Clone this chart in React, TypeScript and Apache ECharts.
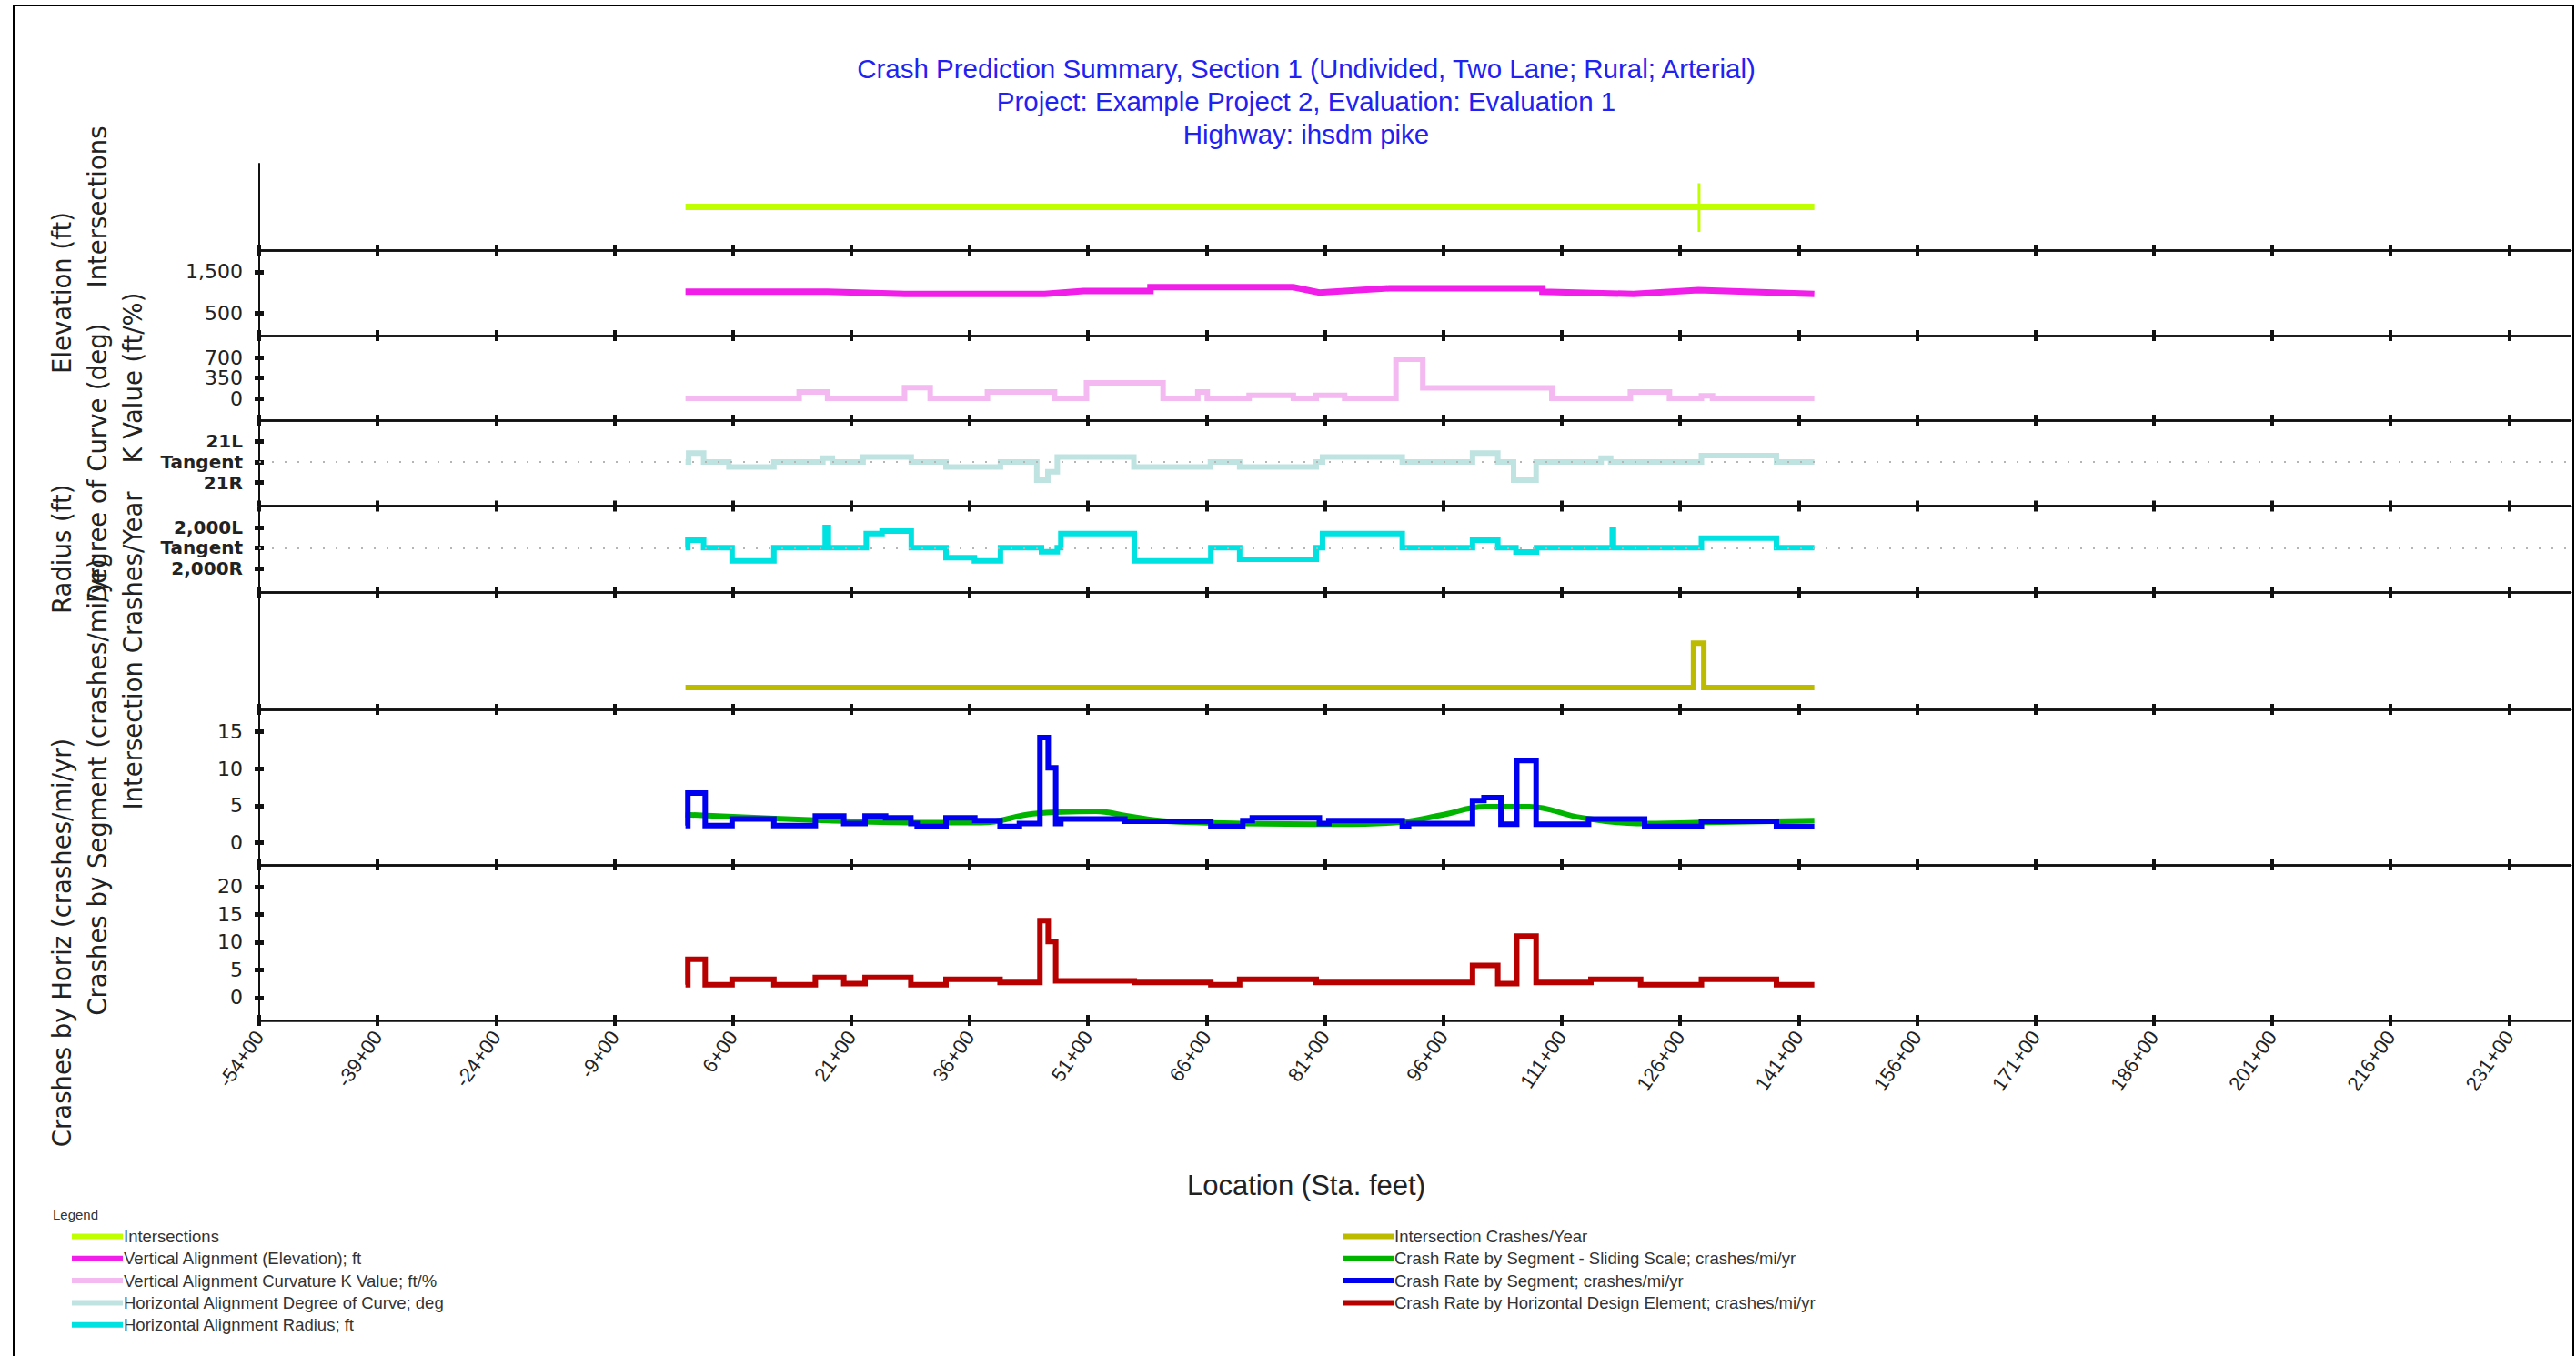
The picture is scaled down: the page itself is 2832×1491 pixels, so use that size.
import React, { useEffect, useRef } from 'react';
import * as echarts from 'echarts';

// ---------------- Text ----------------
const titleLines = [
  'Crash Prediction Summary, Section 1 (Undivided, Two Lane; Rural; Arterial)',
  'Project: Example Project 2, Evaluation: Evaluation 1',
  'Highway: ihsdm pike',
];
const xAxisTitle = 'Location (Sta. feet)';
const legendTitle = 'Legend';

// ---------------- X axis (station, ft) ----------------
const stationMin = -5400;
const stationMax = 23880;
const stationTicks = [-5400, -3900, -2400, -900, 600, 2100, 3600, 5100, 6600, 8100, 9600, 11100, 12600, 14100, 15600, 17100, 18600, 20100, 21600, 23100];

// ---------------- Data ----------------
// Road extent (Intersections panel)
const roadStations = [0, 14300];
const intersectionStations = [12840];

// Vertical alignment elevation (ft) - polyline vertices
const elevStations = [0, 1800, 2780, 4550, 5040, 5890, 5890, 7700, 8030, 8920, 10855, 10855, 12010, 12830, 14300];
const elevValues = [1017, 1017, 960, 960, 1033, 1033, 1128, 1128, 995, 1100, 1100, 1017, 960, 1055, 960];

// K value (ft/%) - step segments: value i applies from station i to station i+1
const kStations = [0, 1440, 1800, 2775, 3100, 3825, 4675, 5080, 6050, 6490, 6610, 7140, 7700, 7990, 8350, 9000, 9340, 10975, 11970, 12465, 12870, 13010, 14300];
const kValues = [0, 110, 0, 185, 0, 110, 0, 265, 0, 110, 0, 50, 0, 50, 0, 670, 180, 0, 110, 0, 45, 0];

// Degree of curve (deg, + = L, - = R)
const degStations = [0, 40, 230, 550, 1120, 1740, 1860, 2250, 2860, 3300, 3990, 4450, 4590, 4710, 5680, 6650, 7020, 7990, 8070, 9080, 9970, 10290, 10490, 10775, 11600, 11720, 12870, 13820, 14300];
const degValues = [0, 9, 0, -5, 0, 4, 0, 5, 0, -5, 0, -18.5, -10, 5, -5, 0, -5, 0, 5, 0, 9, 0, -18.5, 0, 4, 0, 6.5, 0];

// Radius (ft, + = L, - = R)
const radStations = [0, 30, 230, 590, 1120, 1770, 1810, 2290, 2490, 2860, 3300, 3660, 3990, 4510, 4710, 4755, 5685, 6655, 7020, 7990, 8070, 9080, 9970, 10290, 10520, 10780, 11740, 11755, 12870, 13820, 14300];
const radValues = [0, 740, 0, -1280, 0, 1980, 0, 1390, 1630, 0, -980, -1280, 0, -390, 0, 1390, -1280, 0, -1130, 0, 1390, 0, 740, 0, -420, 0, 1750, 0, 940, 0];

// Intersection crashes / year
const icStations = [0, 12770, 12900, 14300];
const icValues = [0, 1, 0];

// Crash rate by segment - sliding scale (smooth)
const slideStations = [0, 600, 1800, 3000, 3750, 4400, 5200, 5600, 6100, 7050, 8270, 9080, 9560, 10130, 10690, 11340, 12050, 12800, 13800, 14300];
const slideValues = [3.8, 3.5, 3.0, 2.7, 2.7, 3.9, 4.25, 3.6, 2.9, 2.6, 2.5, 2.8, 3.7, 4.85, 4.85, 3.4, 2.6, 2.7, 2.9, 3.0];

// Crash rate by segment (step)
const segStations = [0, 30, 250, 590, 1120, 1645, 2005, 2275, 2535, 2855, 2935, 3300, 3665, 3985, 4230, 4490, 4595, 4690, 4755, 5565, 6655, 7060, 7180, 8030, 8150, 9080, 9160, 9970, 10115, 10330, 10530, 10775, 11440, 12150, 12870, 13820, 14300];
const segValues = [2.3, 6.7, 2.3, 3.2, 2.3, 3.6, 2.6, 3.6, 3.35, 2.6, 2.2, 3.35, 3.0, 2.2, 2.6, 14.2, 10.1, 2.6, 3.2, 2.9, 2.2, 3.0, 3.35, 2.6, 3.0, 2.2, 2.6, 5.7, 6.1, 2.5, 11.1, 2.5, 3.2, 2.2, 2.9, 2.2];

// Crash rate by horizontal design element (step)
const horizStations = [0, 30, 250, 590, 1120, 1645, 2005, 2275, 2855, 3300, 3985, 4490, 4595, 4690, 5685, 6655, 7020, 7990, 9970, 10290, 10530, 10775, 11470, 12100, 12870, 13820, 14300];
const horizValues = [2.3, 6.9, 2.3, 3.3, 2.3, 3.6, 2.5, 3.6, 2.3, 3.3, 2.7, 13.9, 10.1, 3.0, 2.7, 2.3, 3.3, 2.7, 5.8, 2.5, 11.1, 2.7, 3.3, 2.3, 3.3, 2.3];

// Y tick values
const elevTicks = [500, 1500];
const kTicks = [0, 350, 700];
const degTicks = [-21, 0, 21];
const radTicks = [-2000, 0, 2000];
const segTicks = [0, 5, 10, 15];
const horizTicks = [0, 5, 10, 15, 20];

// Series names (legend)
const N_INT = 'Intersections';
const N_ELEV = 'Vertical Alignment (Elevation); ft';
const N_K = 'Vertical Alignment Curvature K Value; ft/%';
const N_DEG = 'Horizontal Alignment Degree of Curve; deg';
const N_RAD = 'Horizontal Alignment Radius; ft';
const N_IC = 'Intersection Crashes/Year';
const N_SLIDE = 'Crash Rate by Segment - Sliding Scale; crashes/mi/yr';
const N_SEG = 'Crash Rate by Segment; crashes/mi/yr';
const N_HORIZ = 'Crash Rate by Horizontal Design Element; crashes/mi/yr';
const legendLeftNames = [N_INT, N_ELEV, N_K, N_DEG, N_RAD];
const legendRightNames = [N_IC, N_SLIDE, N_SEG, N_HORIZ];

// ---------------- Styles / layout ----------------
const C = {
  lime: '#C0FF00',
  magenta: '#F01EE8',
  pink: '#F3B9F0',
  teal: '#BFE3E1',
  cyan: '#00E1E1',
  olive: '#BDBB00',
  green: '#00B400',
  blue: '#0000F0',
  red: '#B80000',
  axis: '#111111',
  text: '#222222',
  title: '#2121F2',
};
const panelTops = [180, 275, 369, 462, 556.5, 651, 780, 951];
const panelBottoms = [275, 369, 462, 556.5, 651, 780, 951, 1122];
const nameGapA = 203;
const nameGapB = 164;
const nameGapC = 125;

const thousands = (v: number) => String(Math.round(v)).replace(/\B(?=(\d{3})+(?!\d))/g, ',');
const fmtStation = (v: number) => {
  const whole = Math.trunc(v / 100);
  const rem = Math.abs(Math.round(v)) % 100;
  return `${whole}+${String(rem).padStart(2, '0')}`;
};
const fmtDeg = (v: number) => (v === 0 ? 'Tangent' : v > 0 ? `${v}L` : `${-v}R`);
const fmtRad = (v: number) => (v === 0 ? 'Tangent' : `${thousands(Math.abs(v))}${v > 0 ? 'L' : 'R'}`);

const stepData = (stations: number[], values: number[]) => {
  const pts = values.map((v, i) => [stations[i], v]);
  pts.push([stations[stations.length - 1], values[values.length - 1]]);
  return pts;
};
const lineData = (stations: number[], values: number[]) => stations.map((s, i) => [s, values[i]]);

type Panel = {
  name: string;
  min: number;
  max: number;
  ticks: number[];
  fmt?: (v: number) => string;
  bold?: boolean;
  gap: number;
};

const panels: Panel[] = [
  { name: 'Intersections', min: 0, max: 2, ticks: [], gap: nameGapB },
  { name: 'Elevation (ft)', min: -55, max: 2033, ticks: elevTicks, fmt: (v) => thousands(v), gap: nameGapA },
  { name: 'K Value (ft/%)', min: -373, max: 1074, ticks: kTicks, fmt: (v) => thousands(v), gap: nameGapC },
  { name: 'Degree of Curve (deg)', min: -44.9, max: 42.6, ticks: degTicks, fmt: fmtDeg, bold: true, gap: nameGapB },
  { name: 'Radius (ft)', min: -4329, max: 4072, ticks: radTicks, fmt: fmtRad, bold: true, gap: nameGapA },
  { name: 'Intersection Crashes/Year', min: -0.493, max: 2.156, ticks: [], gap: nameGapC },
  { name: 'Crashes by Segment (crashes/mi/yr)', min: -3.0, max: 18.0, ticks: segTicks, fmt: (v) => String(v), gap: nameGapB },
  { name: 'Crashes by Horiz (crashes/mi/yr)', min: -4.14, max: 23.94, ticks: horizTicks, fmt: (v) => String(v), gap: nameGapA },
];

function buildOption() {
  const last = panels.length - 1;
  const grids = panels.map((_, i) => ({
    left: 285,
    right: 6,
    top: panelTops[i],
    height: panelBottoms[i] - panelTops[i],
    containLabel: false,
    outerBoundsMode: 'none',
  }));

  const xAxes: any[] = [];
  const bottomX: number[] = [];
  const baseX = {
    type: 'value',
    min: stationMin,
    max: stationMax,
    splitLine: { show: false },
  };
  panels.forEach((_, i) => {
    bottomX.push(xAxes.length);
    xAxes.push({
      ...baseX,
      gridIndex: i,
      position: 'bottom',
      axisLine: { show: true, onZero: false, lineStyle: { color: C.axis, width: 2.5 } },
      axisTick: { show: true, inside: false, length: 6, customValues: stationTicks, lineStyle: { color: C.axis, width: 4 } },
      axisLabel:
        i === last
          ? {
              show: true,
              customValues: stationTicks,
              rotate: 55,
              margin: 14,
              formatter: fmtStation,
              fontFamily: 'Liberation Sans',
              fontSize: 22,
              color: C.text,
            }
          : { show: false },
      name: i === last ? xAxisTitle : '',
      nameLocation: 'middle',
      nameGap: 166,
      nameTextStyle: {
        fontFamily: 'Liberation Sans',
        fontSize: 31,
        color: C.text,
        padding: [0, 239, 0, 0],
      },
    });
    if (i > 0) {
      xAxes.push({
        ...baseX,
        gridIndex: i,
        position: 'top',
        axisLine: { show: true, onZero: false, lineStyle: { color: C.axis, width: 2.5 } },
        axisTick: { show: true, inside: false, length: 6, customValues: stationTicks, lineStyle: { color: C.axis, width: 4 } },
        axisLabel: { show: false },
      });
    }
    if (i === last) {
      xAxes.push({
        ...baseX,
        gridIndex: i,
        position: 'bottom',
        axisLine: { show: false, onZero: false },
        axisTick: { show: true, inside: true, length: 6, customValues: stationTicks, lineStyle: { color: C.axis, width: 4 } },
        axisLabel: { show: false },
      });
    }
  });

  const yAxes: any[] = [];
  const primaryY: number[] = [];
  panels.forEach((p, i) => {
    const hasTicks = p.ticks.length > 0;
    primaryY.push(yAxes.length);
    yAxes.push({
      type: 'value',
      gridIndex: i,
      position: 'left',
      min: p.min,
      max: p.max,
      splitLine: { show: false },
      axisLine: { show: true, onZero: false, lineStyle: { color: C.axis, width: 2 } },
      axisTick: hasTicks
        ? { show: true, inside: false, length: 5, customValues: p.ticks, lineStyle: { color: C.axis, width: 5 } }
        : { show: false },
      axisLabel: hasTicks
        ? {
            show: true,
            customValues: p.ticks,
            formatter: p.fmt,
            margin: 18,
            fontFamily: 'DejaVu Sans',
            fontSize: p.bold ? 20 : 22,
            fontWeight: p.bold ? 'bold' : 'normal',
            color: C.text,
          }
        : { show: false },
      name: p.name,
      nameLocation: 'middle',
      nameGap: p.gap,
      nameTextStyle: { fontFamily: 'DejaVu Sans', fontSize: 27.5, color: C.text },
    });
    if (hasTicks) {
      yAxes.push({
        type: 'value',
        gridIndex: i,
        position: 'left',
        min: p.min,
        max: p.max,
        splitLine: { show: false },
        axisLine: { show: false, onZero: false },
        axisTick: { show: true, inside: true, length: 5, customValues: p.ticks, lineStyle: { color: C.axis, width: 5 } },
        axisLabel: { show: false },
      });
    }
  });

  const base = (gi: number) => ({
    type: 'line',
    xAxisIndex: bottomX[gi],
    yAxisIndex: primaryY[gi],
    symbol: 'none',
    showSymbol: false,
    silent: true,
    animation: false,
  });
  const ls = (color: string, width = 6) => ({ color, width, cap: 'butt', join: 'miter' });
  const tangentLine = {
    silent: true,
    symbol: 'none',
    label: { show: false },
    lineStyle: { color: '#B5B5B5', type: [2, 12], width: 2 },
    data: [{ yAxis: 0 }],
  };

  const series: any[] = [
    {
      ...base(0),
      name: N_INT,
      data: lineData(roadStations, roadStations.map(() => 1)),
      lineStyle: ls(C.lime, 7),
      itemStyle: { color: C.lime },
    },
    ...intersectionStations.map((s) => ({
      ...base(0),
      name: 'Intersection location',
      data: [
        [s, 0.42],
        [s, 1.55],
      ],
      lineStyle: ls(C.lime, 3),
      itemStyle: { color: C.lime },
    })),
    {
      ...base(1),
      name: N_ELEV,
      data: lineData(elevStations, elevValues),
      lineStyle: ls(C.magenta, 7),
      itemStyle: { color: C.magenta },
    },
    {
      ...base(2),
      name: N_K,
      step: 'end',
      data: stepData(kStations, kValues),
      lineStyle: ls(C.pink),
      itemStyle: { color: C.pink },
    },
    {
      ...base(3),
      name: N_DEG,
      step: 'end',
      data: stepData(degStations, degValues),
      lineStyle: ls(C.teal),
      itemStyle: { color: C.teal },
      markLine: tangentLine,
    },
    {
      ...base(4),
      name: N_RAD,
      step: 'end',
      data: stepData(radStations, radValues),
      lineStyle: ls(C.cyan),
      itemStyle: { color: C.cyan },
      markLine: tangentLine,
    },
    {
      ...base(5),
      name: N_IC,
      step: 'end',
      data: stepData(icStations, icValues),
      lineStyle: ls(C.olive),
      itemStyle: { color: C.olive },
    },
    {
      ...base(6),
      name: N_SLIDE,
      smooth: 0.4,
      data: lineData(slideStations, slideValues),
      lineStyle: ls(C.green),
      itemStyle: { color: C.green },
    },
    {
      ...base(6),
      name: N_SEG,
      step: 'end',
      data: stepData(segStations, segValues),
      lineStyle: ls(C.blue),
      itemStyle: { color: C.blue },
    },
    {
      ...base(7),
      name: N_HORIZ,
      step: 'end',
      data: stepData(horizStations, horizValues),
      lineStyle: ls(C.red),
      itemStyle: { color: C.red },
    },
  ];

  const legendBase = {
    orient: 'vertical',
    top: 1350,
    padding: 0,
    itemWidth: 56,
    itemHeight: 6,
    itemGap: 5.3,
    icon: 'rect',
    selectedMode: false,
    itemStyle: { borderWidth: 0 },
    textStyle: {
      fontFamily: 'Liberation Sans',
      fontSize: 18.5,
      color: '#333',
      lineHeight: 19,
      padding: [0, 0, 0, -4],
    },
  };

  return {
    animation: false,
    backgroundColor: '#ffffff',
    title: {
      text: titleLines.join('\n'),
      left: 1431,
      top: 52,
      textAlign: 'center',
      textStyle: { fontFamily: 'Liberation Sans', fontSize: 29.5, fontWeight: 'normal', color: C.title, lineHeight: 36 },
    },
    legend: [
      { ...legendBase, left: 79, data: legendLeftNames },
      { ...legendBase, left: 1476, data: legendRightNames },
    ],
    graphic: [
      {
        type: 'rect',
        silent: true,
        z: -10,
        shape: { x: 15, y: 6, width: 2814, height: 1500 },
        style: { fill: 'none', stroke: '#000', lineWidth: 2 },
      },
      {
        type: 'text',
        silent: true,
        x: 58,
        y: 1335,
        style: { text: legendTitle, fontFamily: 'Liberation Sans', fontSize: 15, fill: '#333', verticalAlign: 'middle' },
      },
    ],
    grid: grids,
    xAxis: xAxes,
    yAxis: yAxes,
    series,
  };
}

export default function App() {
  const ref = useRef<HTMLDivElement>(null);
  useEffect(() => {
    if (!ref.current) return;
    const chart = echarts.init(ref.current, undefined, { renderer: 'svg' });
    chart.setOption(buildOption() as any);
    return () => chart.dispose();
  }, []);
  return (
    <div
      ref={ref}
      style={{ position: 'absolute', left: 0, top: 0, width: 2832, height: 1491, background: '#fff' }}
    />
  );
}
